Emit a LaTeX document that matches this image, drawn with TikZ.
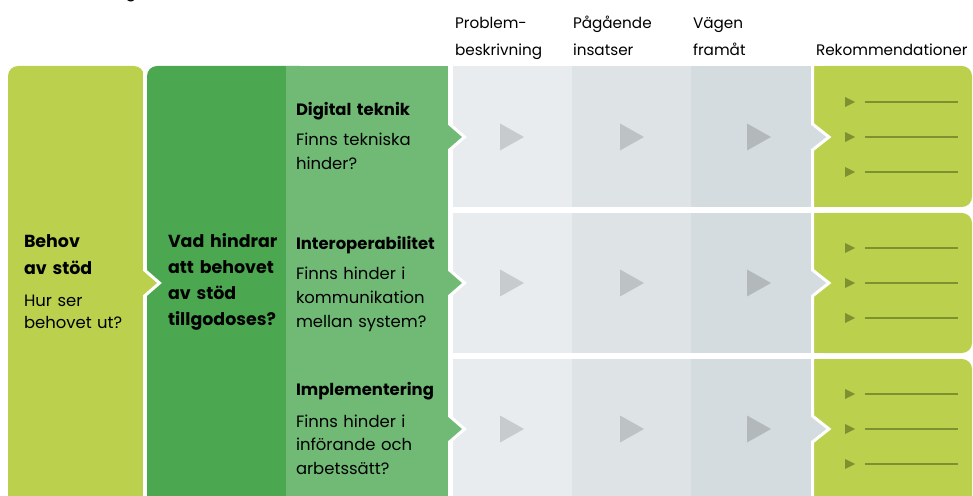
\documentclass[tikz,border=0pt]{standalone}
\usepackage{fontspec}
\setmainfont{Poppins}

\definecolor{lime}{HTML}{BBD14E}
\definecolor{leafdark}{HTML}{4BA851}
\definecolor{leaflight}{HTML}{70BA76}
\definecolor{greyA}{HTML}{E8ECEE}
\definecolor{greyB}{HTML}{DEE3E5}
\definecolor{greyC}{HTML}{D4DCDF}
\definecolor{playA}{HTML}{C7CBCD}
\definecolor{playB}{HTML}{BDC2C4}
\definecolor{playC}{HTML}{B3B8BB}
\definecolor{olive}{HTML}{7E9130}

\tikzset{
  txt/.style={anchor=base west, inner sep=0pt, outer sep=0pt, text width=220bp, align=left},
  body/.style={txt, font=\fontsize{16.5}{24}\selectfont},
  head/.style={txt, font=\fontsize{16.5}{27}\selectfont\bfseries},
  colhead/.style={txt, text width=160bp, font=\fontsize{15.3}{27}\selectfont},
  gap/.style={draw=white, line width=3bp, line join=miter},
}

\begin{document}
\begin{tikzpicture}[x=1bp, y=-1bp]
\useasboundingbox (0,0) rectangle (973,496);

% title line above the figure (only its descender shows)
\node[anchor=base, inner sep=0pt, font=\fontsize{16.5}{20}\selectfont] (titlefrag) at (131,-2) {g};

% recommendation boxes on the right
\foreach \top/\bot in {66/207, 213/353, 359/506} {
  \fill[lime, rounded corners=10bp] (814,\top) rectangle (972,\bot);
  \fill[lime] (814,\top) rectangle (840,\bot);
}

% grey process columns, one band per row
\foreach \top/\bot/\c in {66/207/137, 213/353/283, 359/506/429} {
  \fill[greyA] (453,\top) rectangle (572,\bot);
  \fill[greyB] (572,\top) rectangle (691,\bot);
  \fill[greyC] (691,\top) rectangle (812.5,\bot);
  \fill[greyC] (812,\c-13) -- (829,\c) -- (812,\c+13) -- cycle;
  \draw[gap] (812.5,\top-2) -- (812.5,\c-13) -- (829,\c) -- (812.5,\c+13) -- (812.5,\bot+2);
  % play marks
  \fill[playA] (500,\c-13.5) -- (524,\c) -- (500,\c+13.5) -- cycle;
  \fill[playB] (620,\c-13.5) -- (644,\c) -- (620,\c+13.5) -- cycle;
  \fill[playC] (747,\c-13.5) -- (771,\c) -- (747,\c+13.5) -- cycle;
  % bullet list placeholders
  \foreach \d in {-35,0,35} {
    \fill[olive] (845,\c+\d-5) -- (855,\c+\d) -- (845,\c+\d+5) -- cycle;
    \draw[olive, line width=1.3bp] (865,\c+\d) -- (958,\c+\d);
  }
}

% obstacle column: dark band and light band with pointers
\fill[leafdark, rounded corners=10bp] (147,66) rectangle (310,506);
\fill[leaflight] (286,66) rectangle (449,506);
\foreach \c in {137,283,429}
  \fill[leaflight] (449,\c-13) -- (464,\c) -- (449,\c+13) -- cycle;
\draw[gap] (449.5,60) -- (449.5,124) -- (464.5,137) -- (449.5,150)
  -- (449.5,270) -- (464.5,283) -- (449.5,296)
  -- (449.5,416) -- (464.5,429) -- (449.5,442) -- (449.5,510);

% need column on the left
\fill[lime, rounded corners=10bp] (8,66) rectangle (144,506);
\fill[lime] (144,270) -- (159,283) -- (144,296) -- cycle;
\draw[gap] (144.5,70) -- (144.5,270) -- (159.5,283) -- (144.5,296) -- (144.5,510);

% column headings
\node[colhead] (hprob) at (455,29) {Problem-\\beskrivning};
\node[colhead] (hpag) at (573,29) {Pågående\\insatser};
\node[colhead] (hvag) at (693,29) {Vägen\\framåt};
\node[colhead] (hrek) at (816,56) {Rekommendationer};

% left columns
\node[head, font=\fontsize{17.5}{27}\selectfont\bfseries] (behov) at (24,248) {Behov\\av stöd};
\node[body, font=\fontsize{16.5}{22}\selectfont] (behovq) at (24,307) {Hur ser\\behovet ut?};
\node[head, font=\fontsize{17.5}{26}\selectfont\bfseries] (hinder) at (168,248) {Vad hindrar\\att behovet\\av stöd\\tillgodoses?};

% obstacle types
\node[head] (dig) at (296,116) {Digital teknik};
\node[body] (digq) at (296,146) {Finns tekniska\\hinder?};
\node[head] (inter) at (296,250) {Interoperabilitet};
\node[body] (interq) at (296,280) {Finns hinder i\\kommunikation\\mellan system?};
\node[head] (impl) at (296,395) {Implementering};
\node[body] (implq) at (296,427) {Finns hinder i\\införande och\\arbetssätt?};
\end{tikzpicture}
\end{document}
